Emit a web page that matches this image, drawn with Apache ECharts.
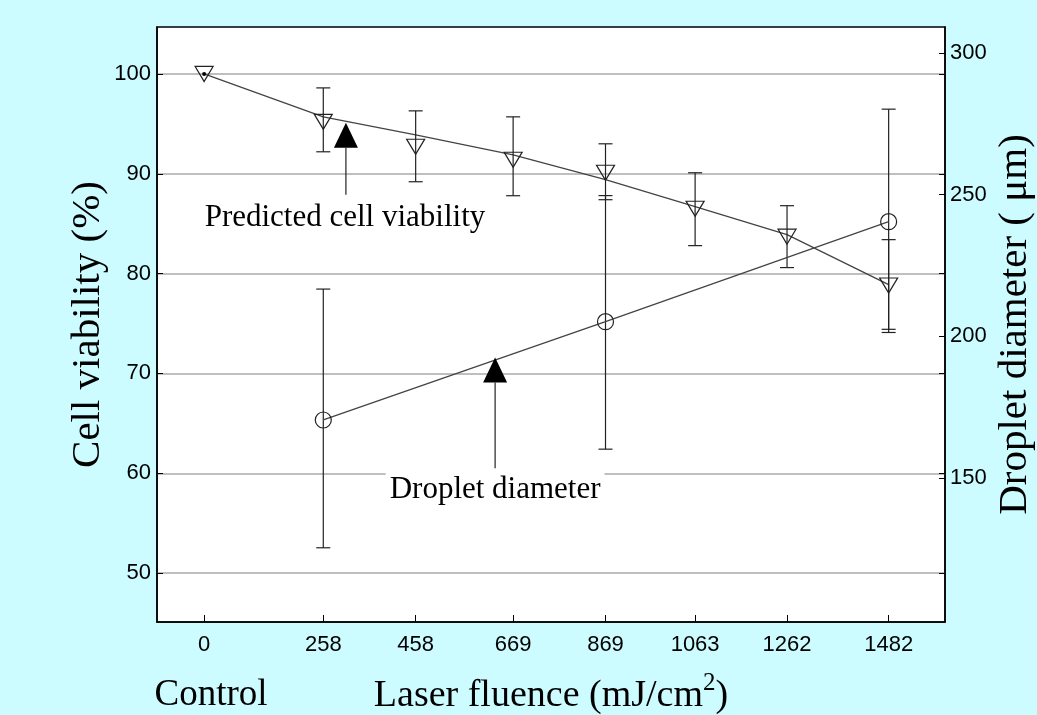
<!DOCTYPE html>
<html>
<head>
<meta charset="utf-8">
<script src="https://cdn.jsdelivr.net/npm/echarts@6/dist/echarts.min.js"></script>
<style>
  html, body { margin: 0; padding: 0; background: #ccfcff; }
  #chart { width: 1037px; height: 715px; }
</style>
</head>
<body>
<div id="chart"></div>
<script>
// measured cell viability (left axis, %)
const fluence = [0, 258, 458, 669, 869, 1063, 1262, 1482];
const viability = [100, 95.2, 92.7, 91.4, 90.1, 86.5, 83.7, 78.8];
const viabilityLow = [null, 92.2, 89.2, 87.8, 87.4, 82.8, 80.6, 74.1];
const viabilityHigh = [null, 98.6, 96.3, 95.7, 93.0, 90.1, 86.8, 83.4];
const predicted = [100, 95.7, 93.9, 91.9, 89.4, 86.7, 83.9, 78.9];

// droplet diameter (right axis, um)
const dropletFluence = [258, 869, 1482];
const droplet = [170.5, 205.2, 240.5];
const dropletLow = [125.4, 160.2, 202.5];
const dropletHigh = [216.7, 249.7, 280.2];

const leftTicks = [50, 60, 70, 80, 90, 100];
const rightTicks = [150, 200, 250, 300];

const serif = "'Liberation Serif', 'Times New Roman', serif";
const sans = "'Liberation Sans', Arial, sans-serif";
const ink = '#222';

function zip(xs, ys) {
  return xs.map((x, i) => [x, ys[i]]);
}

function errorBars(xs, lo, hi, yAxisIndex) {
  const data = [];
  xs.forEach((x, i) => { if (lo[i] != null) data.push([x, lo[i], hi[i]]); });
  return {
    type: 'custom',
    yAxisIndex: yAxisIndex,
    data: data,
    z: 3,
    encode: { x: 0, y: [1, 2] },
    renderItem: function (params, api) {
      const x = api.value(0);
      const a = api.coord([x, api.value(1)]);
      const b = api.coord([x, api.value(2)]);
      const w = 7;
      const st = { stroke: ink, lineWidth: 1.2 };
      return {
        type: 'group',
        children: [
          { type: 'line', shape: { x1: a[0], y1: a[1], x2: b[0], y2: b[1] }, style: st },
          { type: 'line', shape: { x1: a[0] - w, y1: a[1], x2: a[0] + w, y2: a[1] }, style: st },
          { type: 'line', shape: { x1: b[0] - w, y1: b[1], x2: b[0] + w, y2: b[1] }, style: st }
        ]
      };
    }
  };
}

const chart = echarts.init(document.getElementById('chart'));

chart.setOption({
  backgroundColor: '#ccfcff',
  animation: false,
  grid: {
    left: 157, right: 92, top: 27, bottom: 93,
    outerBoundsMode: 'none',
    containLabel: false,
    show: true, backgroundColor: '#fff', borderColor: '#000', borderWidth: 1.5
  },
  xAxis: {
    type: 'value',
    min: -102, max: 1604,
    name: '{t|Laser fluence (mJ/cm}{s|2}{t|)}',
    nameLocation: 'middle',
    nameGap: 49,
    nameTextStyle: {
      rich: {
        t: { fontFamily: serif, fontSize: 38, color: '#000', lineHeight: 44, verticalAlign: 'bottom' },
        s: { fontFamily: serif, fontSize: 25, color: '#000', lineHeight: 44, verticalAlign: 'top' }
      }
    },
    axisLine: { onZero: false, lineStyle: { color: '#000', width: 1.5 } },
    axisTick: { inside: true, length: 7, customValues: fluence, lineStyle: { color: '#000' } },
    axisLabel: {
      customValues: fluence, formatter: v => String(v),
      fontFamily: sans, fontSize: 22, color: '#000', margin: 12
    },
    splitLine: { show: false }
  },
  yAxis: [
    {
      type: 'value',
      min: 45.1, max: 104.7,
      name: 'Cell viability (%)',
      nameLocation: 'middle',
      nameMoveOverlap: false,
      nameGap: 48,
      nameTextStyle: { fontFamily: serif, fontSize: 41, color: '#000' },
      axisLine: { show: true, onZero: false, lineStyle: { color: '#000', width: 1.5 } },
      axisTick: { inside: true, length: 6, customValues: leftTicks, lineStyle: { color: '#000' } },
      axisLabel: { customValues: leftTicks, fontFamily: sans, fontSize: 22, color: '#000', margin: 6 },
      splitLine: { show: true, lineStyle: { color: '#aaa', width: 1.5 } }
    },
    {
      type: 'value',
      position: 'right',
      min: 99.2, max: 309.2,
      name: 'Droplet diameter ( \u03bcm)',
      nameLocation: 'middle',
      nameMoveOverlap: false,
      nameRotate: 90,
      nameGap: 50,
      nameTextStyle: { fontFamily: serif, fontSize: 41, color: '#000' },
      axisLine: { show: true, onZero: false, lineStyle: { color: '#000', width: 1.5 } },
      axisTick: { inside: true, length: 6, customValues: rightTicks, lineStyle: { color: '#000' } },
      axisLabel: { customValues: rightTicks, fontFamily: sans, fontSize: 22, color: '#000', margin: 5 },
      splitLine: { show: false }
    },
    {
      // mirrored left-axis ticks on the right frame
      type: 'value',
      position: 'right',
      min: 45.1, max: 104.7,
      axisLine: { show: false, onZero: false },
      axisTick: { show: true, inside: true, length: 6, customValues: leftTicks, lineStyle: { color: '#000' } },
      axisLabel: { show: false },
      splitLine: { show: false }
    }
  ],
  graphic: [
    {
      type: 'text', x: 211, y: 695, z: 10,
      style: { text: 'Control', font: '37px ' + serif, fill: '#000', textAlign: 'center', textVerticalAlign: 'middle' }
    }
  ],
  series: [
    errorBars(fluence, viabilityLow, viabilityHigh, 0),
    errorBars(dropletFluence, dropletLow, dropletHigh, 1),
    {
      name: 'Predicted',
      type: 'line',
      data: zip(fluence, predicted),
      showSymbol: false,
      lineStyle: { color: '#444', width: 1.3 },
      z: 2
    },
    {
      name: 'Viability',
      type: 'scatter',
      data: zip(fluence, viability),
      symbol: 'triangle',
      symbolRotate: 180,
      symbolSize: [18, 15],
      itemStyle: { color: 'rgba(0,0,0,0)', borderColor: ink, borderWidth: 1.2, opacity: 1 },
      z: 4
    },
    {
      name: 'Control dot',
      type: 'scatter',
      data: [[0, 100]],
      symbolSize: 4,
      itemStyle: { color: '#000', opacity: 1 },
      z: 5
    },
    {
      name: 'Droplet',
      type: 'line',
      yAxisIndex: 1,
      data: zip(dropletFluence, droplet),
      symbol: 'circle',
      symbolSize: 16,
      showAllSymbol: true,
      lineStyle: { color: '#444', width: 1.3 },
      itemStyle: { color: 'rgba(0,0,0,0)', borderColor: ink, borderWidth: 1.2 },
      z: 4
    },
    {
      // annotation arrows: [x, tail, tip]
      type: 'custom',
      data: [[307, 87.9, 95.1], [630, 60.5, 71.6]],
      z: 6,
      renderItem: function (params, api) {
        const x = api.value(0);
        const tail = api.coord([x, api.value(1)]);
        const tip = api.coord([x, api.value(2)]);
        const h = 25, w = 12;
        return {
          type: 'group',
          children: [
            { type: 'line', shape: { x1: tail[0], y1: tail[1], x2: tip[0], y2: tip[1] + h }, style: { stroke: ink, lineWidth: 1.2 } },
            { type: 'polygon', shape: { points: [[tip[0], tip[1]], [tip[0] - w, tip[1] + h], [tip[0] + w, tip[1] + h]] }, style: { fill: '#000' } }
          ]
        };
      }
    },
    {
      // annotation texts
      type: 'scatter',
      symbolSize: 0,
      z: 7,
      itemStyle: { opacity: 1 },
      data: [
        { name: 'Predicted cell viability', value: [305, 85.6] },
        { name: 'Droplet diameter', value: [630, 58.3] }
      ],
      label: {
        show: true,
        position: 'inside',
        formatter: '{b}',
        fontFamily: serif,
        fontSize: 31,
        color: '#000',
        backgroundColor: '#fff',
        padding: [2, 4]
      }
    }
  ]
});
</script>
</body>
</html>
